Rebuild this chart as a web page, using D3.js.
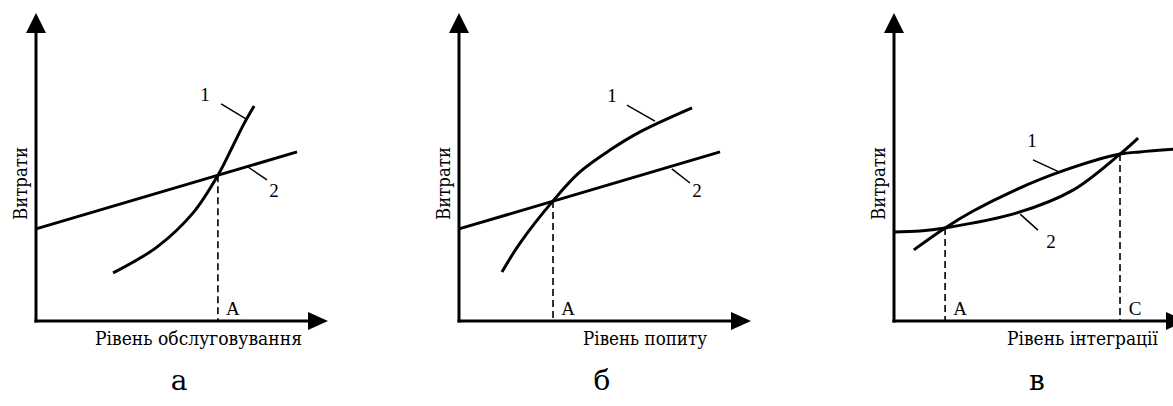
<!DOCTYPE html>
<html>
<head>
<meta charset="utf-8">
<script src="https://cdn.jsdelivr.net/npm/d3@7/dist/d3.min.js"></script>
<style>
  body { margin: 0; background: #fff; }
  text { font-family: "Liberation Serif", "Times New Roman", serif; fill: #000; }
  text.cyr { font-family: "DejaVu Serif", "Liberation Serif", serif; }
</style>
</head>
<body>
<svg id="chart" width="1173" height="406"></svg>
<script>
// values are in axis units, 0..100 on both axes
const panelNames = ["а", "б", "в"]
const xTitles = ["Рівень обслуговування", "Рівень попиту", "Рівень інтеграції"]
const yTitle = "Витрати"

const curveA1 = [[26.4, 15.6], [41.4, 24.0], [53.8, 35.1], [62.3, 47.3], [67.1, 56.2], [71.2, 64.0], [74.7, 69.8]]
const lineA2 = [[0, 29.9], [89.4, 54.9]]
const dropsA = [[62.3, 47.3, "A"]]

const curveB1 = [[14.7, 15.9], [20.9, 25.3], [32.2, 39.0], [41.4, 48.4], [51.7, 55.5], [62.0, 61.4], [79.8, 69.2]]
const lineB2 = [[0, 29.9], [89.4, 54.9]]
const dropsB = [[32.2, 39.0, "A"]]

const curveV1 = [[6.8, 23.1], [17.5, 30.2], [27.1, 35.7], [40.8, 42.2], [56.8, 48.4], [77.4, 54.2], [84.2, 54.9], [96.2, 55.8]]
const curveV2 = [[0, 28.9], [8.9, 29.2], [17.5, 30.2], [42.1, 35.1], [61.3, 42.5], [77.4, 54.2], [83.6, 59.4]]
const dropsV = [[17.5, 30.2, "A"], [77.4, 54.2, "C"]]

// leader lines [x1, y1, x2, y2] and number labels [text, x, y]
const leadersA = [[63.4, 70.5, 71.9, 65.6], [72.6, 50.0, 79.1, 45.8]]
const numbersA = [["1", 57.9, 71.4], ["2", 81.5, 40.3]]
const leadersB = [[57.5, 70.1, 67.1, 64.9], [72.9, 49.4, 79.1, 44.8]]
const numbersB = [["1", 52.4, 71.1], ["2", 81.5, 40.3]]
const leadersV = [[47.6, 52.3, 56.5, 48.4], [43.2, 34.7, 49.3, 29.5]]
const numbersV = [["1", 47.3, 56.5], ["2", 53.8, 23.7]]

// where the x title starts, in axis units
const xTitleStart = [20.2, 42.5, 38.7]
const xTitleWidth = [207, 124, 151]

const panels = [
  { curves: [curveA1, lineA2], drops: dropsA, leaders: leadersA, numbers: numbersA, ox: 36 },
  { curves: [curveB1, lineB2], drops: dropsB, leaders: leadersB, numbers: numbersB, ox: 459 },
  { curves: [curveV1, curveV2], drops: dropsV, leaders: leadersV, numbers: numbersV, ox: 894 }
]

const svg = d3.select("#chart")
const axisLen = 292
const yBottom = 321
const yTop = 13

panels.forEach((p, i) => {

  const x = d3.scaleLinear().domain([0, 100]).range([p.ox, p.ox + axisLen])
  const y = d3.scaleLinear().domain([0, 100]).range([yBottom, yTop])

  const g = svg.append("g")

  // axes with arrow heads
  g.append("line")
  .attr("x1", x(0)).attr("y1", y(0) + 1.5)
  .attr("x2", x(0)).attr("y2", y(100) + 18)
  .attr("stroke", "#000").attr("stroke-width", 3)

  g.append("path")
  .attr("d", `M${x(0)},${y(100)} L${x(0) - 10},${y(100) + 20} L${x(0) + 10},${y(100) + 20} Z`)
  .attr("fill", "#000")

  g.append("line")
  .attr("x1", x(0) - 1.5).attr("y1", y(0))
  .attr("x2", x(100) - 18).attr("y2", y(0))
  .attr("stroke", "#000").attr("stroke-width", 3)

  g.append("path")
  .attr("d", `M${x(100)},${y(0)} L${x(100) - 20},${y(0) - 9} L${x(100) - 20},${y(0) + 9} Z`)
  .attr("fill", "#000")

  // dashed drops to the x axis
  g.selectAll(".drop")
  .data(p.drops)
  .join("line")
  .attr("x1", d => x(d[0])).attr("y1", d => y(d[1]))
  .attr("x2", d => x(d[0])).attr("y2", y(0))
  .attr("stroke", "#000").attr("stroke-width", 1.6)
  .attr("stroke-dasharray", "7,4")

  g.selectAll(".dropLabel")
  .data(p.drops)
  .join("text")
  .attr("x", d => x(d[0]) + 15)
  .attr("y", y(0) - 6)
  .attr("text-anchor", "middle")
  .attr("font-size", 19)
  .text(d => d[2])

  // curves
  const line = d3.line()
  .x(d => x(d[0]))
  .y(d => y(d[1]))
  .curve(d3.curveCatmullRom.alpha(0.5))

  g.selectAll(".curve")
  .data(p.curves)
  .join("path")
  .attr("d", d => line(d))
  .attr("fill", "none")
  .attr("stroke", "#000")
  .attr("stroke-width", 3)

  // leader lines and numbers
  g.selectAll(".leader")
  .data(p.leaders)
  .join("line")
  .attr("x1", d => x(d[0])).attr("y1", d => y(d[1]))
  .attr("x2", d => x(d[2])).attr("y2", d => y(d[3]))
  .attr("stroke", "#000").attr("stroke-width", 1.5)

  g.selectAll(".number")
  .data(p.numbers)
  .join("text")
  .attr("x", d => x(d[1]))
  .attr("y", d => y(d[2]))
  .attr("text-anchor", "middle")
  .attr("font-size", 19)
  .text(d => d[0])

  // titles
  g.append("text")
  .attr("class", "cyr")
  .attr("x", x(xTitleStart[i]))
  .attr("y", y(0) + 24)
  .attr("font-size", 18)
  .attr("textLength", xTitleWidth[i])
  .attr("lengthAdjust", "spacingAndGlyphs")
  .text(xTitles[i])

  g.append("text")
  .attr("class", "cyr")
  .attr("transform", `translate(${x(0) - 9},${183.5}) rotate(-90)`)
  .attr("text-anchor", "middle")
  .attr("font-size", 18)
  .attr("textLength", 73)
  .attr("lengthAdjust", "spacingAndGlyphs")
  .text(yTitle)

  g.append("text")
  .attr("class", "cyr")
  .attr("x", x(0) + 143)
  .attr("y", 390)
  .attr("text-anchor", "middle")
  .attr("font-size", 28)
  .text(panelNames[i])

})
</script>
</body>
</html>
